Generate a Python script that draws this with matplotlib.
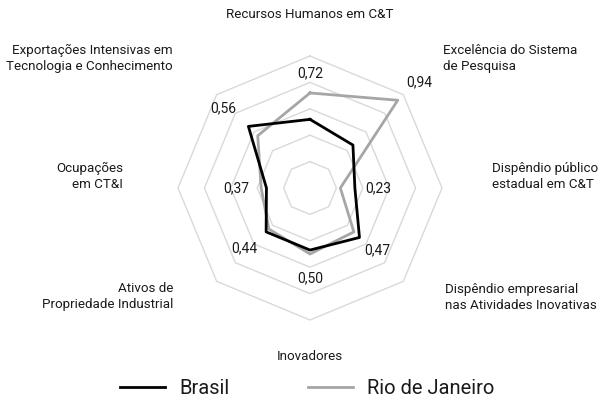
import numpy as np
import matplotlib
matplotlib.use("Agg")
import matplotlib.pyplot as plt
from matplotlib.lines import Line2D
from matplotlib import font_manager

categories = ["Recursos Humanos em C&T",
              "Excelência do Sistema\nde Pesquisa",
              "Dispêndio público\nestadual em C&T",
              "Dispêndio empresarial\nnas Atividades Inovativas",
              "Inovadores",
              "Ativos de\nPropriedade Industrial",
              "Ocupações\nem CT&I",
              "Exportações Intensivas em\nTecnologia e Conhecimento"]
brasil = [0.52, 0.46, 0.34, 0.53, 0.47, 0.47, 0.33, 0.66]
rio = [0.72, 0.94, 0.23, 0.47, 0.50, 0.44, 0.37, 0.56]
value_labels = ["0,72", "0,94", "0,23", "0,47", "0,50", "0,44", "0,37", "0,56"]
rings = [0.2, 0.4, 0.6, 0.8, 1.0]

names = {f.name for f in font_manager.fontManager.ttflist}
fam = "Liberation Sans Narrow" if "Liberation Sans Narrow" in names else "Roboto"
plt.rcParams['font.family'] = [fam, 'DejaVu Sans']

W, H = 601, 404
fig = plt.figure(figsize=(W/100, H/100), dpi=100)
cx, cy, R = 310, 188, 132
ax = fig.add_axes([(cx-R)/W, (H-cy-R)/H, 2*R/W, 2*R/H], projection='polar')
ax.set_theta_zero_location('N')
ax.set_theta_direction(-1)
ax.set_ylim(0, 1.0)
ax.axis('off')

n = len(categories)
theta = np.arange(n) * 2*np.pi/n
tc = np.append(theta, theta[0])

for r in rings:
    ax.plot(tc, [r]*(n+1), color='#d9d9d9', lw=1.0, zorder=1, clip_on=False)

ax.plot(tc, rio + rio[:1], color='#a6a6a6', lw=2.0, zorder=3, clip_on=False)
ax.plot(tc, brasil + brasil[:1], color='#000000', lw=2.0, zorder=4, clip_on=False)

val_off = [(0, 20), (22, 18), (38, 0), (23, -18), (0, -24), (-25, -19), (-25, 0), (-34, 27)]
for t, v, lab, off in zip(theta, rio, value_labels, val_off):
    ax.annotate(lab, xy=(t, v), xytext=off, textcoords='offset pixels',
                ha='center', va='center', fontsize=10, color='#1a1a1a',
                annotation_clip=False)

cat_off = [((0, 42), 'center'), ((40, 36), 'left'), ((50, 11.5), 'left'),
           ((42, -16), 'left'), ((0, -37), 'center'), ((-43, -15), 'right'),
           ((-55, 11.5), 'right'), ((-44, 36), 'right')]
for t, lab, (off, ha) in zip(theta, categories, cat_off):
    ax.annotate(lab, xy=(t, 1.0), xytext=off, textcoords='offset pixels',
                ha=ha, va='center', multialignment=ha, fontsize=9.6,
                color='#1a1a1a', linespacing=1.25, annotation_clip=False)

handles = [Line2D([], [], color='#000000', lw=2.0),
           Line2D([], [], color='#a6a6a6', lw=2.0)]
fig.legend(handles, ["Brasil", "Rio de Janeiro"], loc='center',
           bbox_to_anchor=(307/W, (H-389)/H), ncol=2, frameon=False,
           fontsize=14.5, handlelength=2.25, handletextpad=0.68,
           columnspacing=3.9, labelcolor='#1a1a1a')

fig.savefig("out.png", dpi=100)
